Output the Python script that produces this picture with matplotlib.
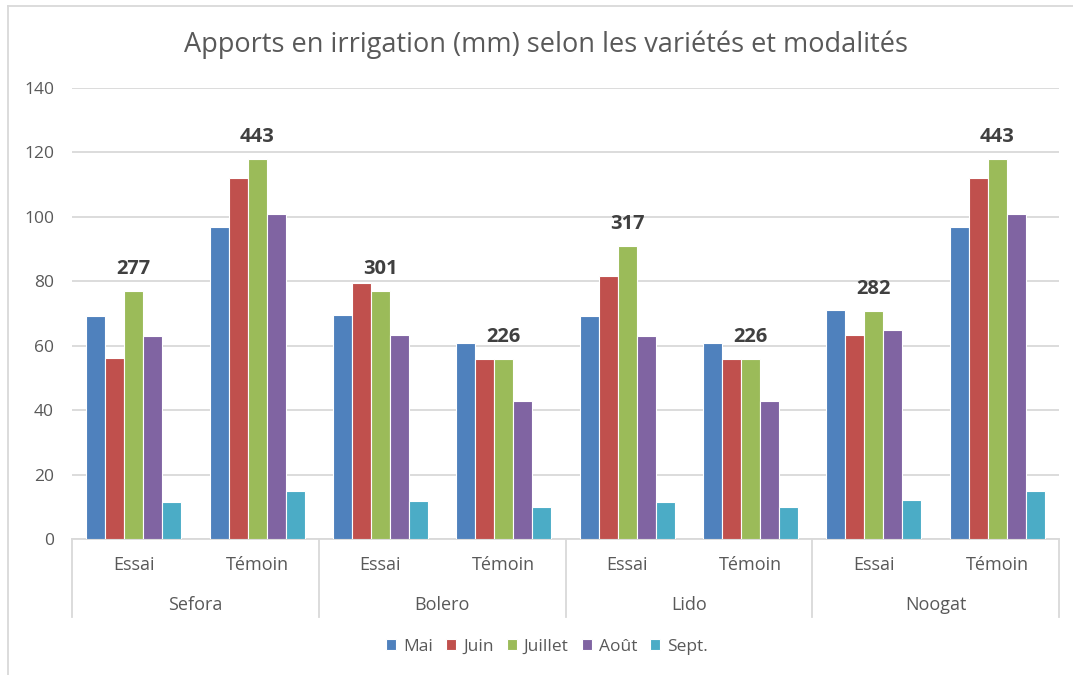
import numpy as np
import matplotlib.pyplot as plt
from matplotlib.transforms import blended_transform_factory
from matplotlib.lines import Line2D

plt.rcParams['font.family'] = ['Open Sans', 'DejaVu Sans']

# data
varieties = ['Sefora', 'Bolero', 'Lido', 'Noogat']
modalities = ['Essai', 'Témoin']
months = ['Mai', 'Juin', 'Juillet', 'Août', 'Sept.']
colors = ['#4F81BD', '#C0504D', '#9BBB59', '#8064A2', '#4BACC6']

mai = [69.3, 97, 69.5, 60.7, 69.3, 60.7, 71.0, 97]
juin = [56.1, 112, 79.5, 55.8, 81.6, 55.8, 63.4, 112]
juillet = [77.0, 118, 77.0, 55.8, 91.0, 55.8, 70.7, 118]
aout = [63.0, 101, 63.2, 42.9, 63.0, 42.9, 64.8, 101]
sept = [11.6, 15, 11.8, 9.9, 11.6, 9.9, 12.0, 15]
totals = [277, 443, 301, 226, 317, 226, 282, 443]

series = [mai, juin, juillet, aout, sept]

fig = plt.figure(figsize=(10.73, 6.75), dpi=100)
ax = fig.add_axes([72 / 1073, (675 - 539) / 675, 987 / 1073, 451 / 675])

n_cat = len(varieties) * len(modalities)
x = np.arange(n_cat) + 0.5
step = 0.154
for k, (vals, c) in enumerate(zip(series, colors)):
    ax.bar(x + (k - 2) * step, vals, width=step, color=c,
           edgecolor='white', linewidth=0.8, zorder=3, label=months[k])

# totals above the Juillet bar
for xi, yi, t in zip(x, juillet, totals):
    ax.annotate(str(t), (xi, yi), xytext=(0, 16), textcoords='offset points',
                ha='center', va='center', fontsize=14.5, fontweight='bold',
                color='#404040')

ax.set_xlim(0, n_cat)
ax.set_ylim(0, 140)
ax.set_yticks(range(0, 141, 20))
ax.yaxis.grid(True, color='#D9D9D9', linewidth=1.3, zorder=0)
ax.tick_params(axis='y', length=0, labelsize=12.5, labelcolor='#595959', pad=13)
ax.tick_params(axis='x', length=0)
ax.set_xticks([])
for s in ['top', 'right', 'left']:
    ax.spines[s].set_visible(False)
ax.spines['bottom'].set_color('#D9D9D9')
ax.spines['bottom'].set_linewidth(1.3)

# two-level category axis
tr = blended_transform_factory(ax.transData, ax.transAxes)
for i in range(n_cat):
    ax.text(x[i], -0.0576, modalities[i % 2], transform=tr, ha='center',
            va='center', fontsize=13, color='#595959')
for j, v in enumerate(varieties):
    ax.text(2 * j + 1, -0.146, v, transform=tr, ha='center', va='center',
            fontsize=13, color='#595959')
for xd in range(0, n_cat + 1, 2):
    ax.add_line(Line2D([xd, xd], [0, -0.173], transform=tr, color='#D9D9D9',
                       linewidth=1.3, clip_on=False))

fig.text(0.509, 1 - 45 / 675, 'Apports en irrigation (mm) selon les variétés et modalités',
         ha='center', va='center', fontsize=19.5, color='#595959')

leg = fig.legend(loc='center', bbox_to_anchor=(0.510, 1 - 647 / 675), ncol=5,
                 frameon=False, fontsize=12.5, handlelength=0.58, handleheight=0.58,
                 handletextpad=0.4, columnspacing=0.75)
for t in leg.get_texts():
    t.set_color('#595959')

# outer chart border (top and left visible)
fig.add_artist(Line2D([8 / 1073, 8 / 1073], [0, 1 - 6 / 675], color='#D9D9D9', linewidth=1.3))
fig.add_artist(Line2D([8 / 1073, 1], [1 - 6 / 675, 1 - 6 / 675], color='#D9D9D9', linewidth=1.3))

fig.savefig('out.png', dpi=100)
